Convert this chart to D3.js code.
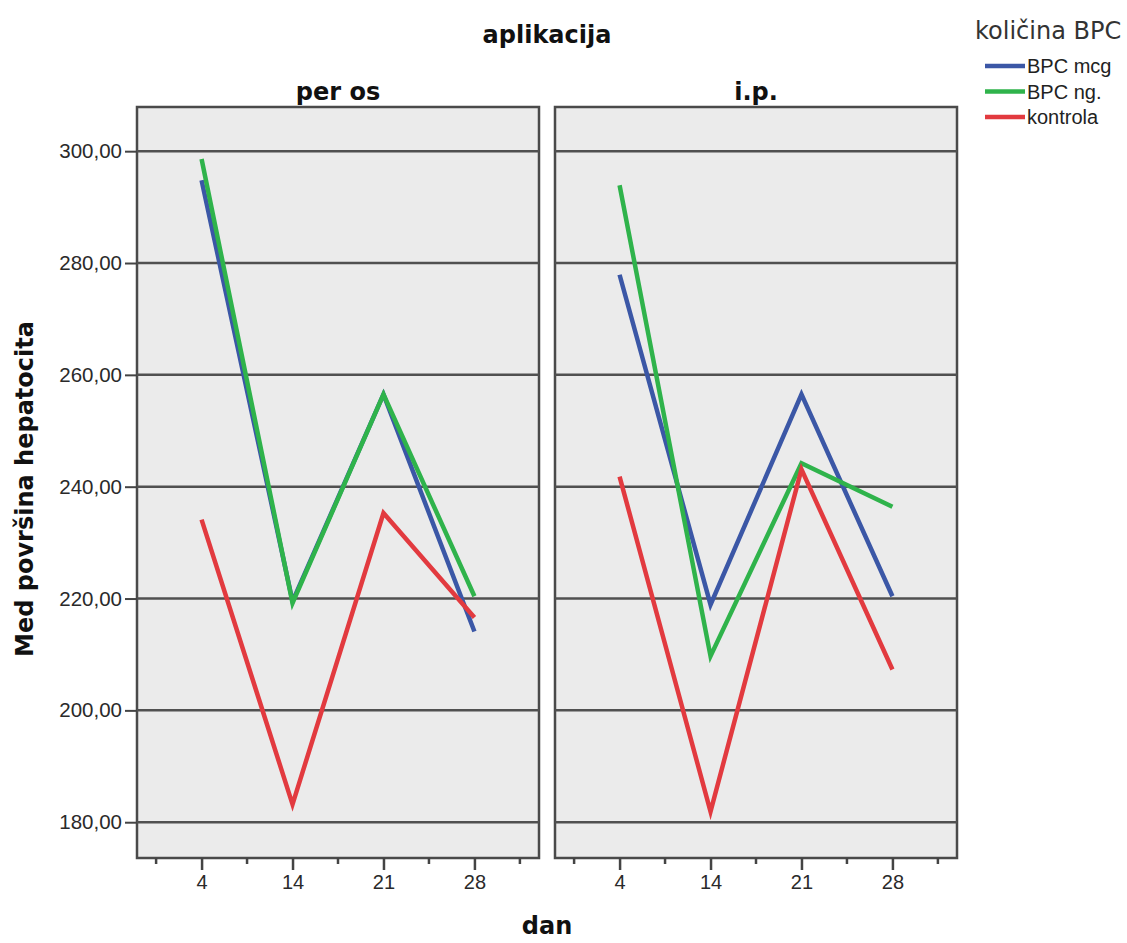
<!DOCTYPE html>
<html><head><meta charset="utf-8">
<script src="https://cdn.jsdelivr.net/npm/d3@7"></script>
<style>body{margin:0;background:#fff;}</style>
</head><body>
<svg id="c" width="1127" height="943"></svg>
<script>
const days = ["4","14","21","28"];
const panels = ["per os","i.p."];
const seriesNames = ["BPC mcg","BPC ng.","kontrola"];
const seriesColors = ["#3b57a6","#2fb34b","#e23a3f"];
const perOsMcg = [294.8, 219.5, 256.5, 214.1];
const perOsNg = [298.6, 219.2, 256.5, 220.4];
const perOsKontrola = [234.1, 183.2, 235.3, 216.6];
const ipMcg = [277.9, 218.9, 256.5, 220.4];
const ipNg = [293.9, 209.7, 244.2, 236.4];
const ipKontrola = [241.8, 181.9, 243.1, 207.3];
const yTicks = [180,200,220,240,260,280,300];
const panelData = [[perOsMcg, perOsNg, perOsKontrola],[ipMcg, ipNg, ipKontrola]];

(function(){
const svg = d3.select("#c");
const pTop = 107, pBottom = 858;
const panelX = [[137,539],[555,957]];
const y = d3.scaleLinear().domain([173.6, 307.9]).range([pBottom, pTop]);
const fmt = v => d3.format(".2f")(v).replace(".", ",");
const titleFont = "'DejaVu Sans', Verdana, sans-serif";
const tickFont = "Arial, 'Liberation Sans', sans-serif";

svg.append("text").attr("x",547).attr("y",43).attr("text-anchor","middle")
  .style("font-family",titleFont).attr("font-size",24).attr("font-weight","bold").attr("fill","#111").text("aplikacija");
svg.append("text").attr("x",547).attr("y",934).attr("text-anchor","middle")
  .style("font-family",titleFont).attr("font-size",24).attr("font-weight","bold").attr("fill","#111").text("dan");
svg.append("text").attr("transform","translate(33,489) rotate(-90)").attr("text-anchor","middle")
  .style("font-family",titleFont).attr("font-size",24).attr("font-weight","bold").attr("fill","#111").text("Med površina hepatocita");

panels.forEach((p,i)=>{
  const [x0,x1] = panelX[i];
  const x = d3.scalePoint().domain(days).range([x0,x1]).padding(0.71);
  const step = x.step();
  const g = svg.append("g");
  g.append("rect").attr("x",x0).attr("y",pTop).attr("width",x1-x0).attr("height",pBottom-pTop)
    .attr("fill","#ebebeb").attr("stroke","#4a4a4a").attr("stroke-width",2.5);
  g.selectAll("line.grid").data(yTicks).join("line").attr("class","grid")
    .attr("x1",x0).attr("x2",x1).attr("y1",d=>y(d)).attr("y2",d=>y(d))
    .attr("stroke","#505050").attr("stroke-width",2.5);
  g.append("text").attr("x",(x0+x1)/2).attr("y",100).attr("text-anchor","middle")
    .style("font-family",titleFont).attr("font-size",24).attr("font-weight","bold").attr("fill","#111").text(p);
  const xa = g.append("g").attr("transform",`translate(0,${pBottom})`)
    .call(d3.axisBottom(x).tickSize(12).tickPadding(5));
  xa.select(".domain").remove();
  xa.selectAll("line").attr("stroke","#444").attr("stroke-width",2.5);
  xa.selectAll("text").attr("font-size",20).attr("fill","#2a2a2a").style("font-family",tickFont);
  const minor = [x(days[0])-step/2].concat(days.map(d=>x(d)+step/2));
  g.selectAll("line.minor").data(minor).join("line").attr("class","minor")
    .attr("x1",d=>d).attr("x2",d=>d).attr("y1",pBottom).attr("y2",pBottom+6)
    .attr("stroke","#444").attr("stroke-width",2.5);
  if(i===0){
    const ya = g.append("g").attr("transform",`translate(${x0},0)`)
      .call(d3.axisLeft(y).tickValues(yTicks).tickFormat(fmt).tickSize(12).tickPadding(3));
    ya.select(".domain").remove();
    ya.selectAll("line").attr("stroke","#444").attr("stroke-width",2);
    ya.selectAll("text").attr("font-size",20.5).attr("fill","#2a2a2a").style("font-family",tickFont);
  }
  const line = d3.line().x((d,j)=>x(days[j])).y(d=>y(d));
  panelData[i].forEach((vals,k)=>{
    g.append("path").attr("d",line(vals)).attr("fill","none")
      .attr("stroke",seriesColors[k]).attr("stroke-width",4.5).attr("stroke-linejoin","miter");
  });
});

svg.append("text").attr("x",975).attr("y",39).style("font-family",titleFont)
  .attr("font-size",24).attr("fill","#333").text("količina BPC");
seriesNames.forEach((n,k)=>{
  const yy = 66 + k*25.5;
  svg.append("line").attr("x1",985).attr("x2",1025).attr("y1",yy).attr("y2",yy)
    .attr("stroke",seriesColors[k]).attr("stroke-width",4.5);
  svg.append("text").attr("x",1027).attr("y",yy+7).style("font-family",tickFont)
    .attr("font-size",20).attr("fill","#222").text(n);
});
})();
</script>
</body></html>
